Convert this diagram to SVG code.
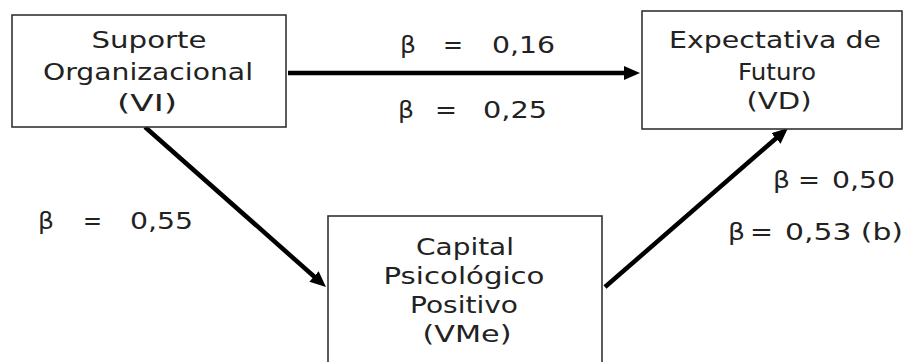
<svg xmlns="http://www.w3.org/2000/svg" width="909" height="362" viewBox="0 0 909 362">
<style>
.box{fill:#fff;stroke:#333;stroke-width:1.6}
.t{font-family:"DejaVu Sans",Verdana,sans-serif;font-size:23px;fill:#222}
.c{text-anchor:middle}
.con{stroke:#000;stroke-width:4.5;fill:none}
</style>
<defs>
<marker id="ah" viewBox="0 0 16 14" refX="8" refY="7" markerWidth="16" markerHeight="14" markerUnits="userSpaceOnUse" orient="auto">
<path d="M0,0 L16,7 L0,14 z" fill="#000"/>
</marker>
</defs>
<rect width="909" height="362" fill="#fff"/>
<g id="connectors">
<line class="con" x1="288" y1="73" x2="632" y2="73" marker-end="url(#ah)"/>
<line class="con" x1="145" y1="127" x2="320" y2="281.7" marker-end="url(#ah)"/>
<line class="con" x1="605" y1="287" x2="782" y2="133.2" marker-end="url(#ah)"/>
</g>
<g id="node-vi">
<rect class="box" x="12" y="15" width="274" height="112"/>
<text class="t c" x="149" y="48" textLength="115" lengthAdjust="spacingAndGlyphs">Suporte</text>
<text class="t c" x="148" y="80" textLength="210" lengthAdjust="spacingAndGlyphs">Organizacional</text>
<text class="t c" x="147" y="111" textLength="60" lengthAdjust="spacingAndGlyphs">(VI)</text>
</g>
<g id="node-vd">
<rect class="box" x="642" y="11" width="260" height="118"/>
<text class="t c" x="775" y="48" textLength="212" lengthAdjust="spacingAndGlyphs">Expectativa de</text>
<text class="t c" x="777" y="80" textLength="78" lengthAdjust="spacingAndGlyphs">Futuro</text>
<text class="t c" x="779" y="109" textLength="65" lengthAdjust="spacingAndGlyphs">(VD)</text>
</g>
<g id="node-vme">
<rect class="box" x="328" y="216" width="274" height="160"/>
<text class="t c" x="465" y="255" textLength="98" lengthAdjust="spacingAndGlyphs">Capital</text>
<text class="t c" x="464" y="284" textLength="161" lengthAdjust="spacingAndGlyphs">Psicológico</text>
<text class="t c" x="464" y="313" textLength="108" lengthAdjust="spacingAndGlyphs">Positivo</text>
<text class="t c" x="467" y="342" textLength="89" lengthAdjust="spacingAndGlyphs">(VMe)</text>
</g>
<g id="labels">
<text class="t" y="53"><tspan x="400" textLength="16" lengthAdjust="spacingAndGlyphs">β</tspan><tspan x="443" textLength="20" lengthAdjust="spacingAndGlyphs">=</tspan><tspan x="492" textLength="63" lengthAdjust="spacingAndGlyphs">0,16</tspan></text>
<text class="t" y="118"><tspan x="398" textLength="16" lengthAdjust="spacingAndGlyphs">β</tspan><tspan x="435" textLength="22" lengthAdjust="spacingAndGlyphs">=</tspan><tspan x="483" textLength="64" lengthAdjust="spacingAndGlyphs">0,25</tspan></text>
<text class="t" y="229"><tspan x="38" textLength="16" lengthAdjust="spacingAndGlyphs">β</tspan><tspan x="83" textLength="19" lengthAdjust="spacingAndGlyphs">=</tspan><tspan x="130" textLength="63" lengthAdjust="spacingAndGlyphs">0,55</tspan></text>
<text class="t" y="188"><tspan x="773" textLength="17" lengthAdjust="spacingAndGlyphs">β</tspan><tspan x="798" textLength="22" lengthAdjust="spacingAndGlyphs">=</tspan><tspan x="832" textLength="63" lengthAdjust="spacingAndGlyphs">0,50</tspan></text>
<text class="t" y="240"><tspan x="728" textLength="17" lengthAdjust="spacingAndGlyphs">β</tspan><tspan x="750" textLength="23" lengthAdjust="spacingAndGlyphs">=</tspan><tspan x="785" textLength="118" lengthAdjust="spacingAndGlyphs">0,53 (b)</tspan></text>
</g>
</svg>
